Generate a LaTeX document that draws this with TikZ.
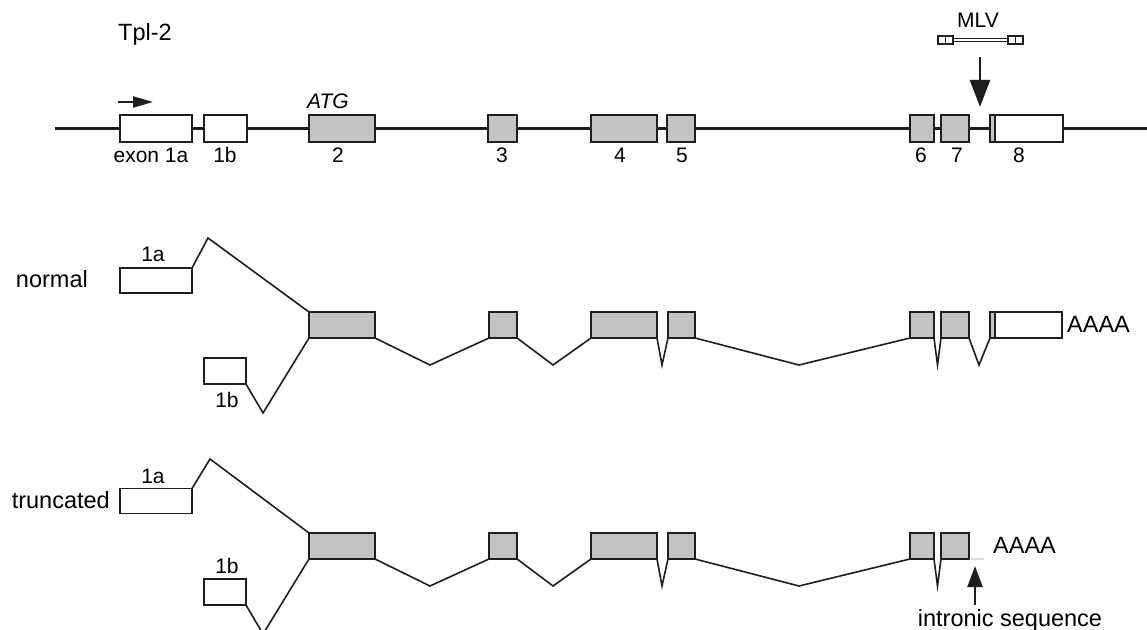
\documentclass[tikz,border=0pt]{standalone}
\usepackage{fontspec}
\setmainfont{Liberation Sans}
\usetikzlibrary{arrows.meta}
\definecolor{ink}{RGB}{30,30,30}
\definecolor{exonfill}{RGB}{195,195,195}
\definecolor{tailgray}{RGB}{160,160,160}
\begin{document}
\begin{tikzpicture}[x=1bp,y=-1bp,
  exonbox/.style={draw=ink, line width=1.6bp, inner sep=0pt, outer sep=0pt, minimum height=26bp},
  coding/.style={exonbox, fill=exonfill},
  utr/.style={exonbox, fill=white},
  backbone/.style={draw=ink, line width=2.2bp},
  intron/.style={draw=ink, line width=1.6bp, line join=miter},
  big/.style={font=\fontsize{23.5bp}{28bp}\selectfont, inner sep=0pt, text=black},
  small/.style={font=\fontsize{21bp}{25bp}\selectfont, inner sep=0pt, text=black},
  ltr/.style={draw=ink, line width=1.4bp, fill=white, inner sep=0pt, minimum width=15bp, minimum height=8bp},
  bigarrow/.style={draw=ink, line width=2.2bp},
]
\useasboundingbox (0,0) rectangle (1147,630);
\clip (0,0) rectangle (1147,630);

% ---------------- genomic locus ----------------
\node[big, anchor=base west] (title) at (118,41) {Tpl-2};

\coordinate (gL) at (55,128.5);
\coordinate (gR) at (1150,128.5);
\node[utr,    minimum width=72bp, minimum height=27bp] (g1a) at (156,128.5) {};
\node[utr,    minimum width=43bp, minimum height=27bp] (g1b) at (225.5,128.5) {};
\node[coding, minimum width=66bp, minimum height=27bp] (g2)  at (342,128.5) {};
\node[coding, minimum width=29bp, minimum height=27bp] (g3)  at (502.5,128.5) {};
\node[coding, minimum width=66bp, minimum height=27bp] (g4)  at (624,128.5) {};
\node[coding, minimum width=28bp, minimum height=27bp] (g5)  at (681,128.5) {};
\node[coding, minimum width=24bp, minimum height=27bp] (g6)  at (922,128.5) {};
\node[coding, minimum width=28bp, minimum height=27bp] (g7)  at (955,128.5) {};
\node[coding, minimum width=5bp,  minimum height=27bp] (g8c) at (992.5,128.5) {};
\node[utr,    minimum width=68bp, minimum height=27bp] (g8u) at (1029,128.5) {};

\draw[backbone] (gL) -- (g1a.west);
\foreach \a/\b in {g1a/g1b, g1b/g2, g2/g3, g3/g4, g4/g5, g5/g6, g6/g7, g7/g8c}
  \draw[backbone] (\a.east) -- (\b.west);
\draw[backbone] (g8u.east) -- (gR);

\node[small, anchor=base] (lg1a) at (151,163) {exon 1a};
\node[small, anchor=base] (lg1b) at (225,163) {1b};
\node[small, anchor=base] (lg2)  at (338,163) {2};
\node[small, anchor=base] (lg3)  at (502,163) {3};
\node[small, anchor=base] (lg4)  at (620,163) {4};
\node[small, anchor=base] (lg5)  at (682,163) {5};
\node[small, anchor=base] (lg6)  at (921,163) {6};
\node[small, anchor=base] (lg7)  at (957,163) {7};
\node[small, anchor=base] (lg8)  at (1019,163) {8};
\node[small, anchor=base] (atg)  at (328,109) {\itshape ATG};

% transcription start
\coordinate (tssA) at (118,102);
\coordinate (tssB) at (153,102);
\draw[bigarrow, -{Triangle[length=20bp,width=11bp]}] (tssA) -- (tssB);

% provirus and its insertion site
\node[small, anchor=base] (mlv) at (978,28) {MLV};
\node[ltr] (ltrL) at (945.5,40) {};
\node[ltr] (ltrR) at (1015.5,40) {};
\draw[ink, line width=1bp] (ltrL.north) -- (ltrL.south);
\draw[ink, line width=1bp] (ltrR.north) -- (ltrR.south);
\draw[ink, line width=0.9bp, double=white, double distance=1.8bp] (ltrL.east) -- (ltrR.west);
\coordinate (insTop) at (980,57);
\coordinate (insTip) at (980,107);
\draw[bigarrow, -{Triangle[length=27bp,width=20bp]}] (insTop) -- (insTip);

% ---------------- normal transcript ----------------
\node[big, anchor=base east] (lnormal) at (88,288) {normal};

\node[utr,    minimum width=72bp, minimum height=25bp] (n1a) at (156,280.5) {};
\node[utr,    minimum width=42bp] (n1b) at (225,371) {};
\node[coding, minimum width=66bp] (n2)  at (342,325) {};
\node[coding, minimum width=28bp] (n3)  at (503,325) {};
\node[coding, minimum width=66bp] (n4)  at (624,325) {};
\node[coding, minimum width=27bp] (n5)  at (681.5,325) {};
\node[coding, minimum width=24bp] (n6)  at (922,325) {};
\node[coding, minimum width=28bp] (n7)  at (955,325) {};
\node[coding, minimum width=5bp]  (n8c) at (992.5,325) {};
\node[utr,    minimum width=67bp] (n8u) at (1028.5,325) {};

\coordinate (np1a) at (208,238);
\coordinate (np1b) at (263,413);
\coordinate (nv2)  at (430,365);
\coordinate (nv3)  at (553,365);
\coordinate (nv4)  at (662,365);
\coordinate (nv5)  at (799,365);
\coordinate (nv6)  at (937.5,365);
\coordinate (nv7)  at (979,365);

\draw[intron] (n1a.north east) -- (np1a) -- (n2.north west);
\draw[intron] (n1b.south east) -- (np1b) -- (n2.south west);
\draw[intron] (n2.south east) -- (nv2) -- (n3.south west);
\draw[intron] (n3.south east) -- (nv3) -- (n4.south west);
\draw[intron] (n4.south east) -- (nv4) -- (n5.south west);
\draw[intron] (n5.south east) -- (nv5) -- (n6.south west);
\draw[intron] (n6.south east) -- (nv6) -- (n7.south west);
\draw[intron] (n7.south east) -- (nv7) -- (n8c.south west);

\node[small, anchor=base] (ln1a) at (153,262) {1a};
\node[small, anchor=base] (ln1b) at (227,407) {1b};
\node[big, anchor=base west] (npolyA) at (1067,333) {AAAA};

% ---------------- truncated transcript ----------------
\node[big, anchor=base east] (ltrunc) at (110,508.5) {truncated};

\node[utr,    minimum width=72bp, minimum height=25bp] (t1a) at (156,501) {};
\node[utr,    minimum width=42bp] (t1b) at (225,592) {};
\node[coding, minimum width=66bp] (t2)  at (342,546) {};
\node[coding, minimum width=28bp] (t3)  at (503,546) {};
\node[coding, minimum width=66bp] (t4)  at (624,546) {};
\node[coding, minimum width=27bp] (t5)  at (681.5,546) {};
\node[coding, minimum width=24bp] (t6)  at (922,546) {};
\node[coding, minimum width=28bp] (t7)  at (955,546) {};

\coordinate (tp1a) at (210,459);
\coordinate (tp1b) at (263,634);
\coordinate (tv2)  at (430,586);
\coordinate (tv3)  at (553,586);
\coordinate (tv4)  at (662,586);
\coordinate (tv5)  at (799,586);
\coordinate (tv6)  at (937.5,586);
\coordinate (tEnd) at (984,559);

\draw[intron] (t1a.north east) -- (tp1a) -- (t2.north west);
\draw[intron] (t1b.south east) -- (tp1b) -- (t2.south west);
\draw[intron] (t2.south east) -- (tv2) -- (t3.south west);
\draw[intron] (t3.south east) -- (tv3) -- (t4.south west);
\draw[intron] (t4.south east) -- (tv4) -- (t5.south west);
\draw[intron] (t5.south east) -- (tv5) -- (t6.south west);
\draw[intron] (t6.south east) -- (tv6) -- (t7.south west);
\draw[tailgray, line width=0.9bp] (t7.south east) -- (tEnd);

\node[small, anchor=base] (lt1a) at (153,483) {1a};
\node[small, anchor=base] (lt1b) at (227,573) {1b};
\node[big, anchor=base west] (tpolyA) at (993,553) {AAAA};

\node[big, anchor=base] (lintron) at (1010,626) {intronic sequence};
\coordinate (intTail) at (975,605);
\coordinate (intTip) at (975,566);
\draw[bigarrow, -{Triangle[length=21bp,width=15bp]}] (intTail) -- (intTip);
\end{tikzpicture}
\end{document}
